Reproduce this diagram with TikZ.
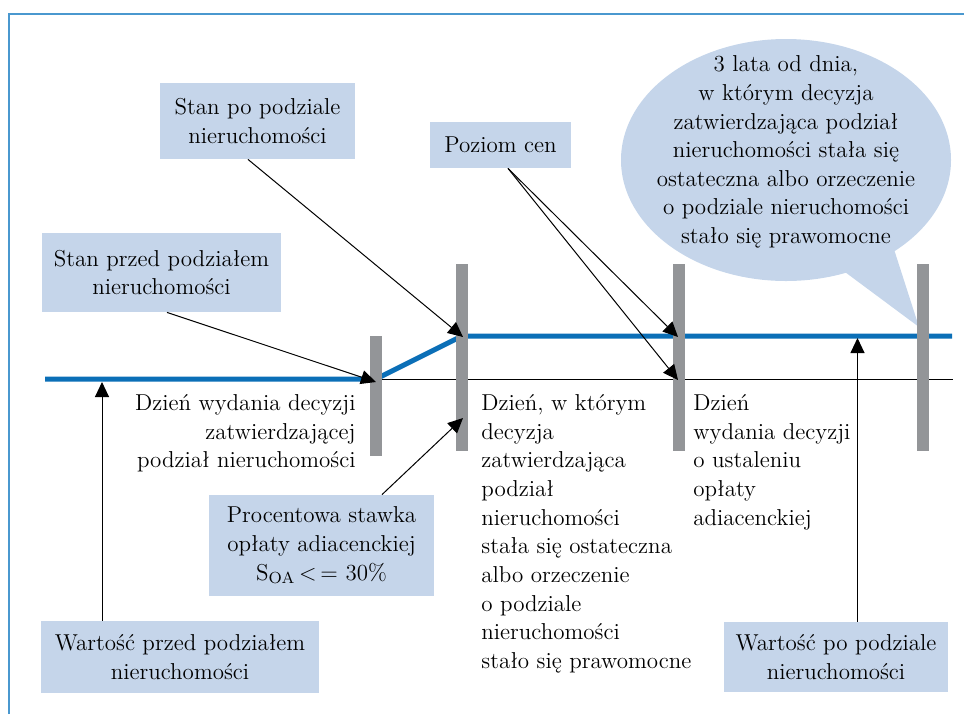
\documentclass[tikz,border=0pt]{standalone}
\usetikzlibrary{arrows.meta,shapes.geometric}
\definecolor{boxblue}{HTML}{C5D5EA}
\definecolor{lineblue}{HTML}{0B6FB7}
\definecolor{frameblue}{HTML}{4A98CF}
\definecolor{bargray}{HTML}{939598}
\tikzset{
  infobox/.style={fill=boxblue,align=center,inner sep=0pt},
  daytext/.style={inner sep=0pt},
  pointer/.style={line width=0.5pt,-{Triangle[length=7.5pt,width=7pt]}},
}
\begin{document}
\begin{tikzpicture}[x=0.5pt,y=-0.5pt,font=\fontsize{11.5}{14.33}\selectfont]
\useasboundingbox (0,0) rectangle (964,714);
\draw[frameblue,line width=0.8pt](9,714)--(9,14)--(964,14);
\node[ellipse,fill=boxblue,inner sep=0pt,outer sep=0pt,minimum width=165pt,minimum height=121pt](bubble) at (786,160){};
\coordinate(tail) at (919,327);
\fill[boxblue](bubble.-62)--(tail)--(bubble.-40)--(bubble.center)--cycle;
\node[align=center,inner sep=0pt] at (786,152){3 lata od dnia,\\w którym decyzja\\zatwierdzająca podział\\nieruchomości stała się\\ostateczna albo orzeczenie\\o podziale nieruchomości\\stało się prawomocne};
\draw[line width=0.5pt](45,379.5)--(953,379.5);
\draw[lineblue,line width=2.5pt](45,379)--(376,379)--(462,336)--(952,336);
\foreach \x/\t/\b in {376/336/456,462/264/451,678.5/264/451,923/264/451}
  \fill[bargray](\x-6,\t) rectangle (\x+6,\b);
\node[infobox,minimum width=97.5pt,minimum height=38pt](spo) at (257.5,121){Stan po podziale\\nieruchomości};
\node[infobox,minimum width=119.5pt,minimum height=39.5pt](sprzed) at (161.5,272.5){Stan przed podziałem\\nieruchomości};
\node[infobox,minimum width=70.5pt,minimum height=23pt](poziom) at (500.5,145){Poziom cen};
\node[infobox,minimum width=112.5pt,minimum height=50.5pt](procent) at (321.5,545.5){Procentowa stawka\\opłaty adiacenckiej\\S\textsubscript{OA}\,<\,=\ 30\%};
\node[infobox,minimum width=139pt,minimum height=36pt](wprzed) at (180,657){Wartość przed podziałem\\nieruchomości};
\node[infobox,minimum width=112pt,minimum height=35pt](wpo) at (836,657){Wartość po podziale\\nieruchomości};
\node[daytext,align=right,anchor=north east](dzien1) at (356,394){Dzień wydania decyzji\\zatwierdzającej\\podział nieruchomości};
\node[daytext,align=left,anchor=north west](dzien2) at (481,394){Dzień, w którym\\decyzja\\zatwierdzająca\\podział\\nieruchomości\\stała się ostateczna\\albo orzeczenie\\o podziale\\nieruchomości\\stało się prawomocne};
\node[daytext,align=left,anchor=north west](dzien3) at (693,394){Dzień\\wydania decyzji\\o ustaleniu\\opłaty\\adiacenckiej};
\coordinate(t1) at (376,382);
\coordinate(t2) at (463,337);
\coordinate(t3) at (678,337);
\coordinate(t4) at (678,380);
\coordinate(t5) at (463,418);
\coordinate(t6) at (102,382);
\coordinate(t7) at (857.5,338);
\draw[pointer]([xshift=2.75pt]sprzed.south)--(t1);
\draw[pointer]([xshift=-4.75pt]spo.south)--(t2);
\draw[pointer]([xshift=3.75pt]poziom.south)--(t3);
\draw[pointer]([xshift=3.75pt]poziom.south)--(t4);
\draw[pointer]([xshift=30.25pt]procent.north)--(t5);
\draw[pointer](wprzed.north -| t6)--(t6);
\draw[pointer](wpo.north -| t7)--(t7);
\end{tikzpicture}
\end{document}
